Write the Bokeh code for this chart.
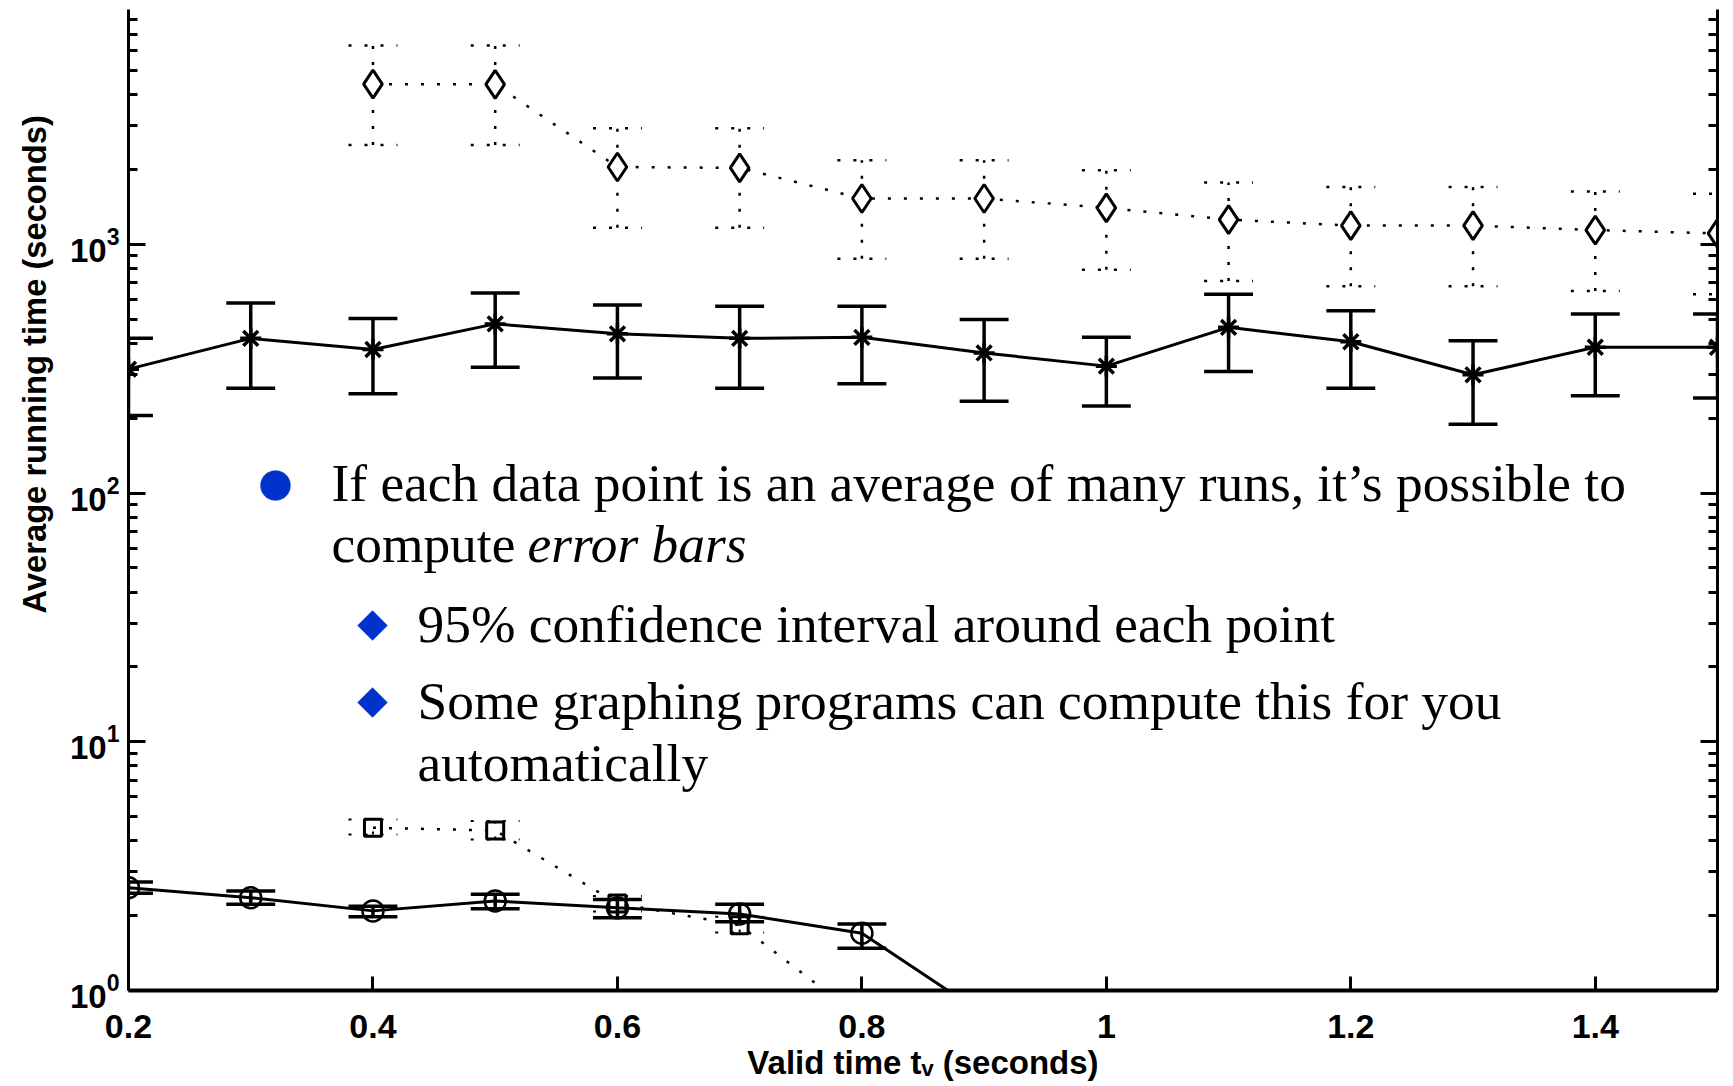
import math

from bokeh.embed import file_html
from bokeh.models import (ColumnDataSource, CustomJSTickFormatter, FixedTicker,
                          Label, LogAxis, PolyAnnotation, Range1d, Title)
from bokeh.plotting import figure
from bokeh.resources import INLINE

# ---------------------------------------------------------------- data ----
# valid time t_v (seconds)
valid_time = [0.2, 0.3, 0.4, 0.5, 0.6, 0.7, 0.8, 0.9, 1.0, 1.1, 1.2, 1.3, 1.4, 1.5]

# star series: mean running time with 95% confidence bounds (seconds)
star_mean = [315, 419, 378, 479, 437, 419, 423, 366, 324, 464, 406, 299, 386, 386]
star_hi = [419, 581, 504, 637, 570, 564, 564, 499, 423, 631, 541, 410, 525, 525]
star_lo = [205, 264, 251, 321, 290, 264, 275, 234, 224, 308, 264, 189, 246, 241]

# diamond series (dotted)
diamond_time = [0.4, 0.5, 0.6, 0.7, 0.8, 0.9, 1.0, 1.1, 1.2, 1.3, 1.4, 1.5]
diamond_mean = [4410, 4400, 2048, 2030, 1529, 1530, 1402, 1258, 1190, 1190, 1142, 1107]
diamond_hi = [6300, 6300, 2930, 2930, 2177, 2177, 1985, 1774, 1702, 1702, 1633, 1600]
diamond_lo = [2510, 2510, 1166, 1166, 875, 875, 790, 713, 678, 678, 650, 631]

# circle series (solid)
circle_time = [0.2, 0.3, 0.4, 0.5, 0.6, 0.7, 0.8, 0.9]
circle_mean = [2.59, 2.36, 2.09, 2.29, 2.15, 2.03, 1.70, 0.80]
circle_hi = [2.73, 2.51, 2.18, 2.44, 2.32, 2.22, 1.85]
circle_lo = [2.46, 2.22, 1.98, 2.13, 1.96, 1.89, 1.48]

# square series (dotted)
square_time = [0.4, 0.5, 0.6, 0.7, 0.8]
square_mean = [4.51, 4.40, 2.24, 1.83, 0.77]
square_hi = [4.87, 4.80, 2.40, 1.98]
square_lo = [4.24, 4.05, 2.08, 1.71]

x_ticks = [0.2, 0.4, 0.6, 0.8, 1.0, 1.2, 1.4]
y_ticks = [1, 10, 100, 1000, 10000]

x_title = "Valid time t\u1d65 (seconds)"
y_title = "Average running time (seconds)"

# slide text laid over the chart
bullet_main = "If each data point is an average of many runs, it\u2019s possible to"
bullet_main_2 = "compute "
bullet_main_2_italic = "error bars"
sub_bullets = ["95% confidence interval around each point",
               "Some graphing programs can compute this for you",
               "automatically"]

# ------------------------------------------------------------- layout ----
W, H = 1733, 1086
FRAME_L, FRAME_R, FRAME_T, FRAME_B = 128, 1717, 9, 990
DECADE_PX = 248.7
Y_TOP = 10 ** ((FRAME_B - FRAME_T) / DECADE_PX)

AXIS_FONT = "Liberation Sans"
SLIDE_FONT = "Liberation Serif"
BLUE = "#0033cc"
CAP = 0.02
DOTS = "3 13"

p = figure(width=W, height=H, y_axis_type="log",
           x_range=Range1d(0.2, 1.5), y_range=Range1d(1, Y_TOP),
           output_backend="svg", toolbar_location=None,
           min_border_left=FRAME_L, min_border_right=W - FRAME_R,
           min_border_top=FRAME_T, min_border_bottom=H - FRAME_B)
p.outline_line_color = None
p.background_fill_color = "white"
p.border_fill_color = "white"
p.xgrid.grid_line_color = None
p.ygrid.grid_line_color = None

# axes: ticks point into the plot, MATLAB style
minor = [m * 10 ** k for k in range(0, 4) for m in range(2, 10)]
y_ticker = FixedTicker(ticks=y_ticks, minor_ticks=minor)

yax = p.yaxis[0]
yax.ticker = y_ticker
yax.axis_line_width = 3
yax.major_tick_in = 17
yax.major_tick_out = 0
yax.minor_tick_in = 9
yax.minor_tick_out = 0
yax.major_tick_line_width = 3
yax.minor_tick_line_width = 3
yax.major_label_standoff = 9
yax.major_label_text_font = AXIS_FONT
yax.major_label_text_font_style = "bold"
yax.major_label_text_font_size = "33px"
yax.major_label_text_color = "black"

right = LogAxis(ticker=y_ticker, formatter=CustomJSTickFormatter(code="return ''"),
                axis_line_width=3, major_tick_in=17, major_tick_out=0,
                minor_tick_in=9, minor_tick_out=0, major_tick_line_width=3,
                minor_tick_line_width=3, major_label_text_font_size="1px")
p.add_layout(right, "right")

xax = p.xaxis[0]
xax.ticker = FixedTicker(ticks=x_ticks, minor_ticks=[])
xax.formatter = CustomJSTickFormatter(
    code="return (Math.round(tick * 10) / 10).toString()")
xax.axis_line_width = 4
xax.major_tick_in = 14
xax.major_tick_out = 0
xax.major_tick_line_width = 3
xax.major_label_standoff = 24
xax.major_label_text_font = AXIS_FONT
xax.major_label_text_font_style = "bold"
xax.major_label_text_font_size = "34px"
xax.major_label_text_color = "black"
xax.axis_label = x_title
xax.axis_label_standoff = 3
xax.axis_label_text_font = AXIS_FONT
xax.axis_label_text_font_style = "bold"
xax.axis_label_text_font_size = "33px"
xax.axis_label_text_color = "black"

# y title sits beside the axis, starting well above the frame bottom
p.add_layout(Title(text=y_title, align="left", offset=377, standoff=27,
                   text_font=AXIS_FONT, text_font_style="bold",
                   text_font_size="32.7px", text_color="black"), "left")


def error_bars(x, lo, hi, **style):
    xs = x[:len(lo)]
    src = ColumnDataSource(dict(x=xs, lo=lo, hi=hi,
                                l=[v - CAP for v in xs],
                                r=[v + CAP for v in xs]))
    p.segment(x0="x", y0="lo", x1="x", y1="hi", source=src, **style)
    p.segment(x0="l", y0="hi", x1="r", y1="hi", source=src, **style)
    p.segment(x0="l", y0="lo", x1="r", y1="lo", source=src, **style)


# diamond series: dotted line and dotted error bars
error_bars(diamond_time, diamond_lo, diamond_hi, line_color="black",
           line_width=2.5, line_dash=DOTS)
p.line(diamond_time, diamond_mean, line_color="black", line_width=2.5,
       line_dash=DOTS)
p.scatter(diamond_time, diamond_mean, marker="diamond", size=28,
          fill_color="white", line_color="black", line_width=3)

# star series: solid line with solid error bars
error_bars(valid_time, star_lo, star_hi, line_color="black", line_width=3.5)
p.line(valid_time, star_mean, line_color="black", line_width=3)
p.scatter(valid_time, star_mean, marker="asterisk", size=21,
          line_color="black", line_width=3.5)

# square series: dotted
error_bars(square_time, square_lo, square_hi, line_color="black",
           line_width=2, line_dash=DOTS)
p.line(square_time, square_mean, line_color="black", line_width=2.5,
       line_dash=DOTS)
p.scatter(square_time, square_mean, marker="square", size=17,
          fill_color=None, line_color="black", line_width=3)

# circle series: solid
error_bars(circle_time, circle_lo, circle_hi, line_color="black", line_width=3.5)
p.line(circle_time, circle_mean, line_color="black", line_width=3)
p.scatter(circle_time, circle_mean, marker="circle", size=21,
          fill_color=None, line_color="black", line_width=2.5)


# ------------------------------------------------------- slide bullets ----
def at(cx, cy):
    """Canvas pixel position -> frame-relative screen units."""
    return dict(x=cx - FRAME_L, y=FRAME_B - cy, x_units="screen", y_units="screen")


def slide_text(text, cx, cy, style="normal"):
    p.add_layout(Label(text=text, **at(cx, cy), text_font=SLIDE_FONT,
                       text_font_size="53.4px", text_font_style=style,
                       text_color="black", text_align="left",
                       text_baseline="alphabetic"))


def poly(points):
    xs = [cx - FRAME_L for cx, _ in points]
    ys = [FRAME_B - cy for _, cy in points]
    p.add_layout(PolyAnnotation(xs=xs, ys=ys, xs_units="screen", ys_units="screen",
                                fill_color=BLUE, fill_alpha=1.0, line_color=BLUE,
                                line_width=1))


def dot(cx, cy, r):
    poly([(cx + r * math.cos(t * math.pi / 24), cy + r * math.sin(t * math.pi / 24))
          for t in range(48)])


def rhomb(cx, cy, r):
    poly([(cx, cy - r), (cx + r, cy), (cx, cy + r), (cx - r, cy)])


dot(275, 485, 15)
slide_text(bullet_main, 331, 482)
slide_text(bullet_main_2, 331, 543)
slide_text(bullet_main_2_italic, 527, 543, style="italic")

rhomb(372, 625, 15)
rhomb(372, 702, 15)
slide_text(sub_bullets[0], 417, 623)
slide_text(sub_bullets[1], 417, 700)
slide_text(sub_bullets[2], 417, 762)

open("out.html", "w").write(file_html(p, INLINE))
